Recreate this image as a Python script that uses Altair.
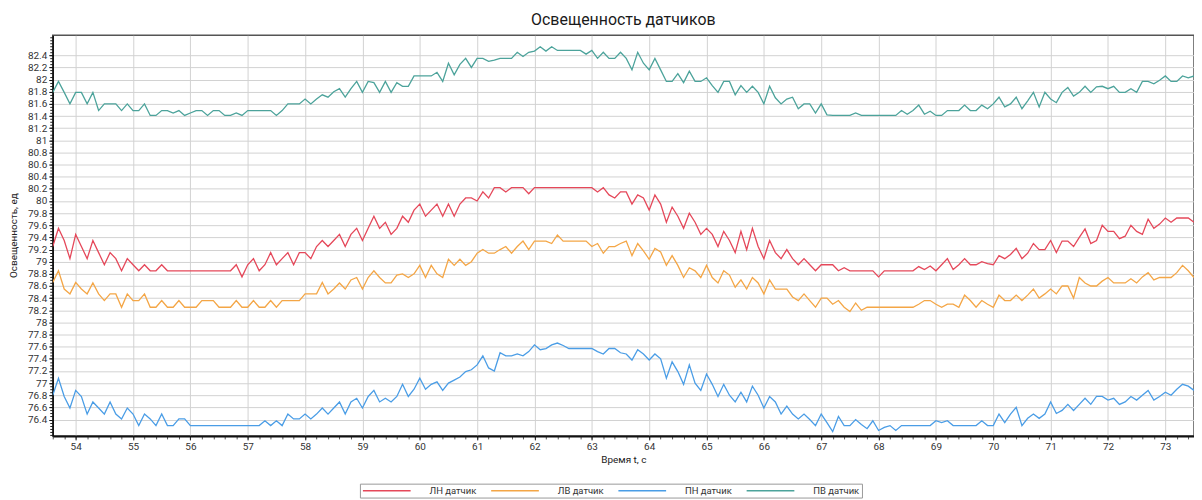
import altair as alt
import pandas as pd

# ---------------- data ----------------
T_START = 53.6
T_STEP = 0.1

series_names = ["ЛН датчик", "ЛВ датчик", "ПН датчик", "ПВ датчик"]
series_colors = ["#E5485A", "#F4A646", "#4A9DE6", "#4CA39B"]

ln_values = [
    79.25, 79.55, 79.35, 79.05, 79.45, 79.25, 79.05, 79.35, 79.15, 78.95,
    79.15, 79.05, 78.85, 79.05, 78.95, 78.85, 78.95, 78.85, 78.85, 78.95,
    78.85, 78.85, 78.85, 78.85, 78.85, 78.85, 78.85, 78.85, 78.85, 78.85,
    78.85, 78.85, 78.95, 78.75, 78.95, 79.05, 78.85, 78.95, 79.15, 78.95,
    79.05, 79.15, 78.95, 79.15, 79.15, 79.05, 79.25, 79.35, 79.25, 79.35,
    79.45, 79.25, 79.45, 79.55, 79.35, 79.55, 79.75, 79.55, 79.65, 79.45,
    79.55, 79.75, 79.65, 79.85, 79.95, 79.75, 79.85, 79.95, 79.75, 79.95,
    79.75, 79.95, 80.05, 80.05, 80.00, 80.15, 80.05, 80.22, 80.22, 80.15,
    80.22, 80.22, 80.22, 80.12, 80.22, 80.22, 80.22, 80.22, 80.22, 80.22,
    80.22, 80.22, 80.22, 80.22, 80.22, 80.15, 80.22, 80.10, 80.05, 80.15,
    80.15, 79.95, 80.10, 80.05, 79.85, 80.10, 79.95, 79.65, 79.90, 79.75,
    79.55, 79.80, 79.65, 79.45, 79.55, 79.45, 79.25, 79.50, 79.35, 79.15,
    79.50, 79.20, 79.55, 79.25, 79.05, 79.35, 79.15, 79.05, 79.20, 79.05,
    78.95, 79.05, 78.95, 78.85, 78.95, 78.95, 78.95, 78.85, 78.90, 78.85,
    78.85, 78.85, 78.85, 78.85, 78.75, 78.85, 78.85, 78.85, 78.85, 78.85,
    78.85, 78.92, 78.87, 78.93, 78.85, 78.95, 79.05, 78.87, 78.95, 79.05,
    78.95, 78.95, 79.00, 78.97, 78.95, 79.10, 79.05, 79.12, 79.22, 79.05,
    79.14, 79.30, 79.20, 79.20, 79.35, 79.15, 79.34, 79.34, 79.25, 79.40,
    79.54, 79.30, 79.35, 79.60, 79.50, 79.50, 79.38, 79.42, 79.60, 79.50,
    79.45, 79.70, 79.55, 79.62, 79.72, 79.65, 79.72, 79.72, 79.72, 79.65,
]

lv_values = [
    78.66, 78.85, 78.55, 78.47, 78.66, 78.55, 78.47, 78.65, 78.47, 78.36,
    78.47, 78.47, 78.25, 78.47, 78.36, 78.36, 78.47, 78.25, 78.25, 78.36,
    78.25, 78.25, 78.36, 78.25, 78.25, 78.25, 78.36, 78.36, 78.36, 78.25,
    78.25, 78.25, 78.36, 78.25, 78.25, 78.36, 78.25, 78.25, 78.36, 78.25,
    78.36, 78.36, 78.36, 78.36, 78.47, 78.47, 78.47, 78.66, 78.47, 78.55,
    78.65, 78.55, 78.70, 78.74, 78.55, 78.74, 78.85, 78.74, 78.65, 78.65,
    78.78, 78.80, 78.74, 78.80, 78.94, 78.74, 78.94, 78.80, 78.74, 79.04,
    78.94, 79.04, 78.94, 79.00, 79.14, 79.20, 79.14, 79.14, 79.20, 79.25,
    79.14, 79.25, 79.34, 79.20, 79.34, 79.34, 79.34, 79.30, 79.44, 79.34,
    79.34, 79.34, 79.34, 79.34, 79.25, 79.30, 79.14, 79.25, 79.25, 79.30,
    79.34, 79.10, 79.30, 79.18, 79.04, 79.22, 79.16, 78.94, 79.10, 78.94,
    78.74, 78.90, 78.85, 78.74, 78.94, 78.74, 78.65, 78.85, 78.78, 78.58,
    78.70, 78.55, 78.74, 78.65, 78.47, 78.70, 78.55, 78.55, 78.55, 78.42,
    78.36, 78.47, 78.36, 78.25, 78.40, 78.40, 78.30, 78.36, 78.25, 78.18,
    78.32, 78.20, 78.25, 78.25, 78.25, 78.25, 78.25, 78.25, 78.25, 78.25,
    78.25, 78.30, 78.36, 78.36, 78.30, 78.25, 78.30, 78.30, 78.25, 78.45,
    78.36, 78.25, 78.36, 78.30, 78.25, 78.45, 78.36, 78.36, 78.45, 78.36,
    78.45, 78.55, 78.40, 78.47, 78.55, 78.47, 78.60, 78.60, 78.40, 78.74,
    78.65, 78.60, 78.60, 78.68, 78.74, 78.65, 78.65, 78.65, 78.72, 78.65,
    78.75, 78.82, 78.70, 78.74, 78.74, 78.74, 78.82, 78.94, 78.85, 78.74,
]

pn_values = [
    76.80, 77.08, 76.78, 76.59, 76.88, 76.78, 76.49, 76.69, 76.59, 76.49,
    76.69, 76.49, 76.41, 76.59, 76.49, 76.30, 76.49, 76.41, 76.30, 76.49,
    76.30, 76.30, 76.41, 76.41, 76.30, 76.30, 76.30, 76.30, 76.30, 76.30,
    76.30, 76.30, 76.30, 76.30, 76.30, 76.30, 76.30, 76.38, 76.30, 76.38,
    76.30, 76.49, 76.41, 76.41, 76.49, 76.41, 76.49, 76.59, 76.49, 76.59,
    76.69, 76.49, 76.69, 76.75, 76.59, 76.78, 76.88, 76.69, 76.75, 76.69,
    76.78, 76.98, 76.78, 76.90, 77.08, 76.90, 76.98, 77.02, 76.88, 77.00,
    77.05, 77.10, 77.19, 77.22, 77.30, 77.45, 77.25, 77.20, 77.50, 77.45,
    77.45, 77.48, 77.45, 77.52, 77.63, 77.55, 77.57, 77.63, 77.66, 77.62,
    77.57, 77.57, 77.57, 77.57, 77.57, 77.52, 77.48, 77.57, 77.57, 77.50,
    77.48, 77.38, 77.55, 77.48, 77.38, 77.48, 77.40, 77.08, 77.35, 77.19,
    76.98, 77.30, 77.00, 76.88, 77.15, 76.98, 76.78, 76.98, 76.80, 76.69,
    76.85, 76.69, 76.95, 76.80, 76.59, 76.78, 76.69, 76.49, 76.62, 76.49,
    76.41, 76.49, 76.40, 76.30, 76.49, 76.35, 76.20, 76.45, 76.30, 76.30,
    76.40, 76.32, 76.25, 76.38, 76.22, 76.27, 76.30, 76.22, 76.30, 76.30,
    76.30, 76.30, 76.30, 76.30, 76.38, 76.35, 76.38, 76.30, 76.30, 76.30,
    76.30, 76.30, 76.38, 76.30, 76.30, 76.49, 76.35, 76.49, 76.60, 76.30,
    76.42, 76.49, 76.42, 76.49, 76.69, 76.50, 76.55, 76.65, 76.55, 76.65,
    76.75, 76.65, 76.78, 76.78, 76.72, 76.75, 76.65, 76.69, 76.78, 76.72,
    76.80, 76.88, 76.72, 76.78, 76.85, 76.80, 76.90, 76.98, 76.95, 76.88,
]

pv_values = [
    81.79, 81.97, 81.79, 81.60, 81.79, 81.79, 81.60, 81.79, 81.49, 81.60,
    81.60, 81.60, 81.49, 81.60, 81.49, 81.49, 81.60, 81.41, 81.41, 81.49,
    81.49, 81.45, 81.49, 81.41, 81.45, 81.49, 81.49, 81.41, 81.49, 81.49,
    81.41, 81.41, 81.45, 81.41, 81.49, 81.49, 81.49, 81.49, 81.49, 81.41,
    81.49, 81.60, 81.60, 81.60, 81.68, 81.60, 81.68, 81.75, 81.71, 81.80,
    81.85, 81.71, 81.85, 81.97, 81.79, 81.97, 81.95, 81.79, 81.97, 81.79,
    81.95, 81.89, 81.89, 82.06, 82.06, 82.06, 82.06, 82.12, 81.97, 82.27,
    82.08, 82.25, 82.35, 82.20, 82.35, 82.35, 82.30, 82.32, 82.35, 82.35,
    82.35, 82.45, 82.38, 82.45, 82.47, 82.54, 82.47, 82.54, 82.48, 82.48,
    82.48, 82.48, 82.48, 82.42, 82.48, 82.35, 82.45, 82.35, 82.35, 82.45,
    82.35, 82.16, 82.45, 82.27, 82.16, 82.35, 82.16, 81.97, 81.97, 82.10,
    81.95, 82.14, 81.97, 81.97, 82.03, 81.90, 81.79, 81.97, 81.97, 81.75,
    81.90, 81.79, 81.89, 81.79, 81.60, 81.89, 81.70, 81.60, 81.68, 81.71,
    81.52, 81.60, 81.60, 81.45, 81.60, 81.42, 81.41, 81.41, 81.41, 81.41,
    81.45, 81.41, 81.41, 81.41, 81.41, 81.41, 81.41, 81.41, 81.49, 81.43,
    81.49, 81.58, 81.43, 81.48, 81.41, 81.41, 81.49, 81.49, 81.49, 81.58,
    81.49, 81.49, 81.58, 81.52, 81.60, 81.71, 81.55, 81.60, 81.71, 81.52,
    81.65, 81.79, 81.55, 81.79, 81.68, 81.62, 81.79, 81.87, 81.73, 81.79,
    81.89, 81.79, 81.88, 81.89, 81.85, 81.89, 81.79, 81.79, 81.85, 81.79,
    81.97, 81.97, 81.93, 81.99, 82.06, 81.97, 81.97, 82.06, 82.03, 82.06,
]

x_major_ticks = [54, 55, 56, 57, 58, 59, 60, 61, 62, 63,
                 64, 65, 66, 67, 68, 69, 70, 71, 72, 73]
x_minor_ticks = [round(53.6 + 0.2 * i, 1) for i in range(100)]
y_major_ticks = [round(76.4 + 0.2 * i, 1) for i in range(31)]
y_minor_ticks = [round(76.15 + 0.05 * i, 2) for i in range(132)]

X_DOMAIN = [53.6, 73.5]
Y_DOMAIN = [76.13, 82.73]

# ---------------- table ----------------
times = [round(T_START + T_STEP * i, 2) for i in range(len(ln_values))]
rows = []
for name, vals in zip(series_names,
                      [ln_values, lv_values, pn_values, pv_values]):
    for t, v in zip(times, vals):
        rows.append({"t": t, "v": v, "s": name})
df = pd.DataFrame(rows)

FONT = "Roboto"
x_scale = alt.Scale(domain=X_DOMAIN, nice=False, zero=False)
y_scale = alt.Scale(domain=Y_DOMAIN, nice=False, zero=False)

lines = alt.Chart(df).mark_line(strokeWidth=1.3, clip=True).encode(
    x=alt.X("t:Q", scale=x_scale,
            axis=alt.Axis(values=x_major_ticks, format="d", title="Время t, c",
                          orient="bottom", grid=True, gridColor="#d2d2d2",
                          gridWidth=1, tickSize=4, tickColor="#222",
                          domainColor="#111", domainWidth=2,
                          labelPadding=2, labelFontSize=10, labelColor="#333",
                          titleFontSize=10, titleFontWeight="normal",
                          titleColor="#222", titlePadding=3, labelFlush=False)),
    y=alt.Y("v:Q", scale=y_scale,
            axis=alt.Axis(values=y_major_ticks, format=".1~f",
                          title="Освещенность, ед", orient="left",
                          grid=True, gridColor="#d2d2d2", gridWidth=1,
                          tickSize=4, tickColor="#111", domainColor="#111",
                          domainWidth=1.5, labelPadding=2, labelFontSize=10,
                          labelColor="#333", titleFontSize=10,
                          titleFontWeight="normal", titleColor="#222",
                          titleX=-39, titleY=201, titleAngle=-90,
                          titleBaseline="middle", titleAlign="center",
                          labelFlush=False)),
    color=alt.Color("s:N",
                    scale=alt.Scale(domain=series_names, range=series_colors),
                    legend=alt.Legend(orient="none", legendX=309, legendY=451,
                                      direction="horizontal", columns=4,
                                      title=None, symbolType="M-6,0H6",
                                      symbolSize=64, symbolOffset=20,
                                      symbolStrokeWidth=1.5,
                                      symbolFillColor="transparent",
                                      labelFontSize=9.5, labelColor="#333",
                                      labelOffset=38, columnPadding=11,
                                      strokeColor="#999", padding=2,
                                      labelFont=FONT)),
)

minor = alt.Chart(df).mark_line(strokeOpacity=0, clip=True).encode(
    x=alt.X("t:Q", scale=x_scale,
            axis=alt.Axis(values=x_minor_ticks, orient="bottom", labels=False,
                          grid=False, domain=False, ticks=True, tickSize=3,
                          tickColor="#555", title=None)),
    y=alt.Y("v:Q", scale=y_scale,
            axis=alt.Axis(values=y_minor_ticks, orient="left", labels=False,
                          grid=False, domain=False, ticks=True, tickSize=3,
                          tickColor="#222", title=None)),
    detail="s:N",
)

chart = alt.layer(minor, lines).resolve_axis(
    x="independent", y="independent"
).properties(
    width=1148,
    height=403,
    autosize=alt.AutoSizeParams(type="none"),
    padding={"left": 45, "top": 26, "right": 0, "bottom": 64},
    title=alt.Title("Освещенность датчиков", fontSize=16, fontWeight="normal",
                    anchor="middle", frame="group", offset=8, dy=17,
                    baseline="bottom", color="#1a1a1a", font=FONT),
).configure(font=FONT).configure_view(stroke="#555", strokeWidth=1.5)

chart.save("out.html", embed_options={"renderer": "svg", "actions": False})
